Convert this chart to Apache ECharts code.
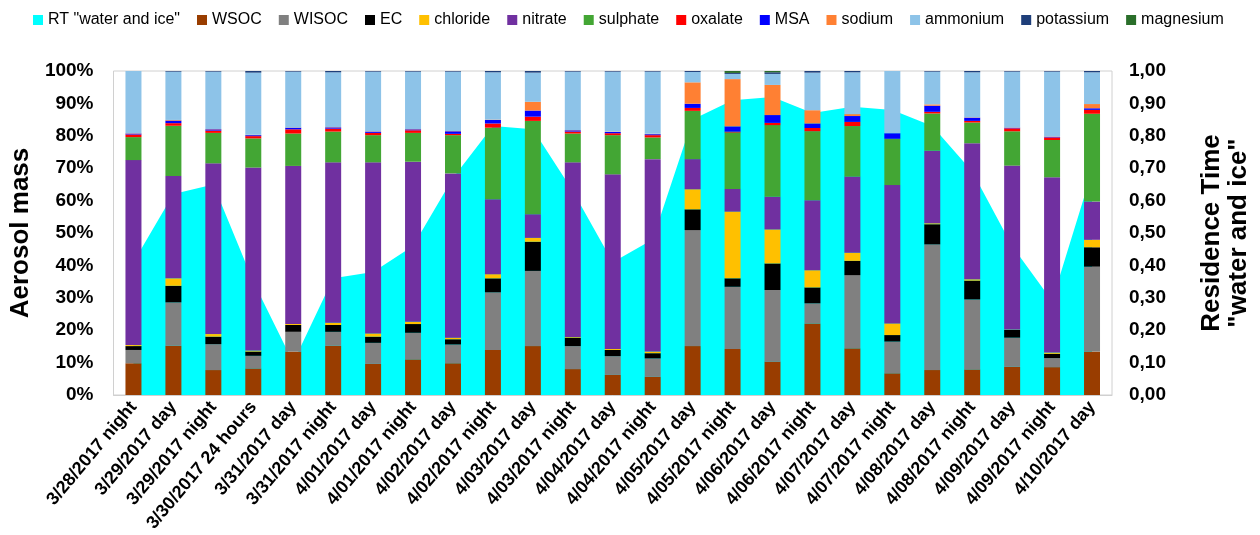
<!DOCTYPE html>
<html>
<head>
<meta charset="utf-8">
<script src="https://cdn.jsdelivr.net/npm/echarts@6/dist/echarts.min.js"></script>
<style>
  html, body { margin: 0; padding: 0; background: #fff; }
  #chart { width: 1260px; height: 535px; }
</style>
</head>
<body>
<div id="chart"></div>
<script>
var categories = ['3/28/2017 night', '3/29/2017 day', '3/29/2017 night', '3/30/2017 24 hours', '3/31/2017 day',
    '3/31/2017 night', '4/01/2017 day', '4/01/2017 night', '4/02/2017 day', '4/02/2017 night', '4/03/2017 day',
    '4/03/2017 night', '4/04/2017 day', '4/04/2017 night', '4/05/2017 day', '4/05/2017 night', '4/06/2017 day',
    '4/06/2017 night', '4/07/2017 day', '4/07/2017 night', '4/08/2017 day', '4/08/2017 night', '4/09/2017 day',
    '4/09/2017 night', '4/10/2017 day'];

// residence time "water and ice" (right axis)
var rtWaterIce = [0.41, 0.62, 0.65, 0.35, 0.10, 0.36, 0.38, 0.46, 0.67, 0.83, 0.82, 0.63, 0.41,
    0.48, 0.85, 0.91, 0.92, 0.87, 0.89, 0.88, 0.83, 0.69, 0.46, 0.29, 0.69];

// aerosol mass fractions, %
var wsoc = [9.8, 15.2, 7.7, 8.2, 13.4, 15.2, 9.6, 11.0, 9.8, 13.9, 15.1, 8.0, 6.2, 5.6, 15.1, 14.2, 10.3, 22.1, 14.4, 6.7, 7.7, 7.9, 8.7, 8.6, 13.4];
var wisoc = [4.1, 13.4, 8.0, 3.9, 6.1, 4.3, 6.5, 8.2, 5.8, 17.8, 23.2, 7.1, 5.8, 5.7, 35.8, 19.2, 22.1, 6.2, 22.6, 9.8, 38.8, 21.6, 9.0, 2.8, 26.2];
var ec = [1.2, 5.1, 2.3, 1.3, 2.1, 2.1, 1.9, 2.7, 1.6, 4.3, 9.0, 2.6, 1.9, 1.6, 6.4, 2.6, 8.2, 4.9, 4.4, 2.0, 6.2, 5.8, 2.4, 1.3, 6.0];
var chloride = [0.3, 2.3, 0.8, 0.3, 0.3, 0.7, 1.0, 0.7, 0.5, 1.3, 1.2, 0.2, 0.3, 0.5, 6.2, 20.6, 10.5, 5.3, 2.5, 3.6, 0.3, 0.4, 0.1, 0.4, 2.3];
var nitrate = [57.1, 31.6, 52.7, 56.5, 48.8, 49.5, 52.8, 49.4, 50.7, 23.1, 7.3, 53.9, 53.9, 59.4, 9.3, 7.0, 10.1, 21.6, 23.5, 42.7, 22.4, 42.0, 50.6, 54.1, 11.8];
var sulphate = [7.1, 15.5, 9.4, 9.0, 10.0, 9.5, 8.4, 8.9, 11.8, 22.1, 28.8, 8.9, 12.1, 6.7, 14.9, 17.4, 22.1, 21.3, 15.6, 14.2, 11.5, 6.4, 10.6, 11.5, 27.1];
var oxalate = [0.8, 0.8, 0.7, 0.7, 1.3, 0.9, 0.7, 0.8, 0.4, 1.3, 1.3, 0.6, 0.6, 0.7, 0.9, 0.3, 0.7, 1.0, 1.3, 0.1, 0.5, 0.5, 0.9, 0.8, 1.2];
var msa = [0.3, 0.8, 0.4, 0.3, 0.5, 0.4, 0.4, 0.3, 0.8, 1.1, 1.9, 0.4, 0.4, 0.3, 1.3, 1.6, 2.4, 1.4, 1.8, 1.7, 1.9, 1.0, 0.2, 0.2, 0.5];
var sodium = [0.1, 0.2, 0.1, 0.1, 0.1, 0.1, 0.1, 0.1, 0.1, 0.1, 2.7, 0.1, 0.1, 0.1, 6.6, 14.6, 9.3, 4.1, 0.6, 0, 0.4, 0.1, 0.1, 0.1, 1.3];
var ammonium = [19.2, 14.9, 17.7, 19.2, 17.2, 16.9, 18.4, 17.7, 18.3, 14.6, 9.0, 18.0, 18.5, 19.2, 3.2, 1.6, 3.4, 11.6, 12.9, 19.2, 10.1, 13.9, 17.2, 20.0, 9.8];
var potassium = [0, 0.2, 0.2, 0.5, 0.2, 0.4, 0.2, 0.2, 0.2, 0.4, 0.5, 0.2, 0.2, 0.2, 0.3, 0.3, 0.5, 0.5, 0.4, 0, 0.2, 0.4, 0.2, 0.2, 0.4];
var magnesium = [0, 0, 0, 0, 0, 0, 0, 0, 0, 0, 0, 0, 0, 0, 0, 0.6, 0.4, 0, 0, 0, 0, 0, 0, 0, 0];

var leftTicks = [0, 10, 20, 30, 40, 50, 60, 70, 80, 90, 100];

var components = [
    ['WSOC', wsoc, '#993d00'],
    ['WISOC', wisoc, '#808080'],
    ['EC', ec, '#000000'],
    ['chloride', chloride, '#ffc000'],
    ['nitrate', nitrate, '#7030a0'],
    ['sulphate', sulphate, '#43a634'],
    ['oxalate', oxalate, '#ff0000'],
    ['MSA', msa, '#0000ff'],
    ['sodium', sodium, '#ff8033'],
    ['ammonium', ammonium, '#8dc3e8'],
    ['potassium', potassium, '#1f3f7a'],
    ['magnesium', magnesium, '#2a6e2a']
];

var font = 'Liberation Sans, Arial, sans-serif';

var series = [{
    name: 'RT "water and ice"',
    type: 'line',
    yAxisIndex: 1,
    data: rtWaterIce,
    symbol: 'none',
    z: 1,
    lineStyle: {width: 0},
    itemStyle: {color: '#00ffff'},
    areaStyle: {color: '#00ffff', opacity: 1}
}];
components.forEach(function (c) {
    series.push({
        name: c[0],
        type: 'bar',
        stack: 'mass',
        barWidth: 16,
        z: 3,
        data: c[1],
        itemStyle: {color: c[2]}
    });
});

var option = {
    animation: false,
    backgroundColor: '#ffffff',
    textStyle: {fontFamily: font},
    legend: {
        left: 28,
        top: 7,
        icon: 'rect',
        itemWidth: 10,
        itemHeight: 10,
        itemGap: 17,
        textStyle: {fontSize: 16, color: '#000', fontFamily: font},
        data: ['RT "water and ice"'].concat(components.map(function (c) { return c[0]; }))
    },
    grid: {
        left: 110,
        right: 135,
        top: 71,
        bottom: 140,
        show: true,
        borderColor: '#d0d0d0',
        borderWidth: 1
    },
    xAxis: [{
        type: 'category',
        data: categories,
        axisLine: {lineStyle: {color: '#d0d0d0'}},
        axisTick: {show: false},
        axisLabel: {
            interval: 0,
            rotate: 50,
            margin: 9,
            color: '#000',
            fontWeight: 'bold',
            fontSize: 18,
            fontFamily: font
        }
    }],
    yAxis: [
        {
            type: 'value',
            min: leftTicks[0],
            max: leftTicks[leftTicks.length - 1],
            interval: 10,
            name: 'Aerosol mass',
            nameLocation: 'middle',
            nameGap: 66,
            nameTextStyle: {fontSize: 26, fontWeight: 'bold', color: '#000', fontFamily: font},
            axisLine: {show: false},
            axisTick: {show: false},
            splitLine: {show: false},
            axisLabel: {
                formatter: '{value}%',
                margin: 20,
                color: '#000',
                fontWeight: 'bold',
                fontSize: 19,
                fontFamily: font
            }
        },
        {
            type: 'value',
            min: 0,
            max: 1,
            interval: 0.1,
            position: 'right',
            name: 'Residence Time\n"water and ice"',
            nameLocation: 'middle',
            nameGap: 86,
            nameRotate: 90,
            nameTextStyle: {fontSize: 26, fontWeight: 'bold', color: '#000', fontFamily: font, lineHeight: 27},
            axisLine: {show: false},
            axisTick: {show: false},
            splitLine: {show: false},
            axisLabel: {
                formatter: function (v) { return v.toFixed(2).replace('.', ','); },
                margin: 17,
                color: '#000',
                fontWeight: 'bold',
                fontSize: 19,
                fontFamily: font
            }
        }
    ],
    series: series
};

var myChart = echarts.init(document.getElementById('chart'));
myChart.setOption(option);
</script>
</body>
</html>
